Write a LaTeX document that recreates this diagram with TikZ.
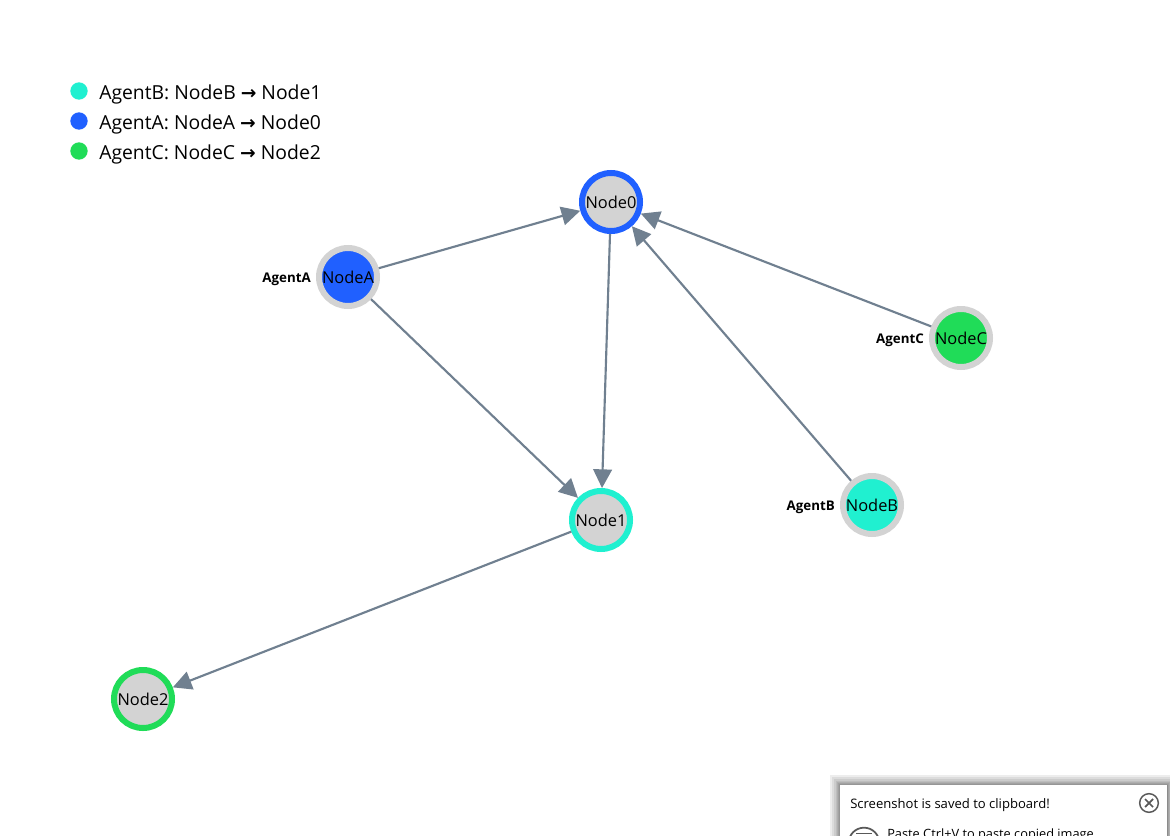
\documentclass[tikz,border=0pt]{standalone}
\usepackage{fontspec}
\usepackage{xcolor}
\setmainfont{Open Sans}
\newfontfamily\arrowfont{DejaVu Sans}
\usetikzlibrary{arrows.meta, positioning}

\definecolor{agentA}{HTML}{2060FF}
\definecolor{agentB}{HTML}{20F0D0}
\definecolor{agentC}{HTML}{20DC58}
\definecolor{edgegray}{HTML}{708090}
\definecolor{nodegray}{HTML}{D3D3D3}

\newcommand{\legendarrow}{{\arrowfont\fontsize{14}{16}\selectfont\bfseries →}}

\tikzset{
  graphnode/.style={circle, line width=4.5pt, minimum size=43.5pt, inner sep=0pt, font=\fontsize{12.3}{14}\selectfont},
  agentlabel/.style={font=\fontsize{10}{12}\selectfont\bfseries, inner sep=0pt, yshift=-2pt},
  edge/.style={-{Triangle[length=14pt,width=14pt]}, edgegray, line width=1.6pt},
  legenddot/.style={circle, minimum size=13pt, inner sep=0pt},
  legendtext/.style={anchor=west, inner sep=0pt, font=\fontsize{14.5}{17}\selectfont},
}

\begin{document}
\begin{tikzpicture}[x=0.75pt, y=-0.75pt]
  \clip (0,0) rectangle (1170,835);
  \fill[white] (0,0) rectangle (1170,835);

  % legend
  \node[legenddot, fill=agentB] (dotB) at (79,91) {};
  \node[legenddot, fill=agentA] (dotA) at (79,121) {};
  \node[legenddot, fill=agentC] (dotC) at (79,151) {};
  \node[legendtext] (legB) at (99,94) {AgentB: NodeB \legendarrow{} Node1};
  \node[legendtext] (legA) at (99,124) {AgentA: NodeA \legendarrow{} Node0};
  \node[legendtext] (legC) at (99,154) {AgentC: NodeC \legendarrow{} Node2};

  % goal nodes
  \node[graphnode, draw=agentA, fill=nodegray] (node0) at (611,202) {Node0};
  \node[graphnode, draw=agentB, fill=nodegray] (node1) at (601,520) {Node1};
  \node[graphnode, draw=agentC, fill=nodegray] (node2) at (143,699) {Node2};

  % start nodes
  \node[graphnode, draw=nodegray, fill=agentA] (nodeA) at (348,277) {NodeA};
  \node[graphnode, draw=nodegray, fill=agentB] (nodeB) at (872,505) {NodeB};
  \node[graphnode, draw=nodegray, fill=agentC] (nodeC) at (961,338) {NodeC};

  \node[agentlabel, left=3.7pt of nodeA] (labelA) {AgentA};
  \node[agentlabel, left=3.7pt of nodeB] (labelB) {AgentB};
  \node[agentlabel, left=3.7pt of nodeC] (labelC) {AgentC};

  \draw[edge] (nodeA) -- (node0);
  \draw[edge] (nodeA) -- (node1);
  \draw[edge] (node0) -- (node1);
  \draw[edge] (nodeB) -- (node0);
  \draw[edge] (nodeC) -- (node0);
  \draw[edge] (node1) -- (node2);

  % toast in the corner, its shadow thickens towards the box
  \foreach \s in {1,...,9}
    \fill[black, opacity=0.07] (840-\s*\s/8,785-\s*\s/8) rectangle (1167+\s*\s/8,860);
  \fill[white] (840,785) rectangle (1167,860);
  \node[anchor=west, inner sep=0pt, font=\fontsize{9.8}{12}\selectfont] (toasttitle) at (850,805) {Screenshot is saved to clipboard!};
  \node[circle, draw=black!65, line width=1.1pt, minimum size=14pt, inner sep=0pt] (toastclose) at (1149,803) {};
  \draw[black!65, line width=1.3pt] (toastclose.center) +(-4,-4) -- +(4,4) (toastclose.center) +(4,-4) -- +(-4,4);
  \node[circle, draw=black!65, line width=1.3pt, minimum size=23pt, inner sep=0pt] (toasticon) at (864,843) {};
  \draw[black!65, line width=1.3pt] (toasticon.center) +(-8,-9.5) -- +(8,-9.5);
  \node[anchor=west, inner sep=0pt, font=\fontsize{9.6}{12}\selectfont] (toasthint) at (887,835) {Paste Ctrl+V to paste copied image};
\end{tikzpicture}
\end{document}
